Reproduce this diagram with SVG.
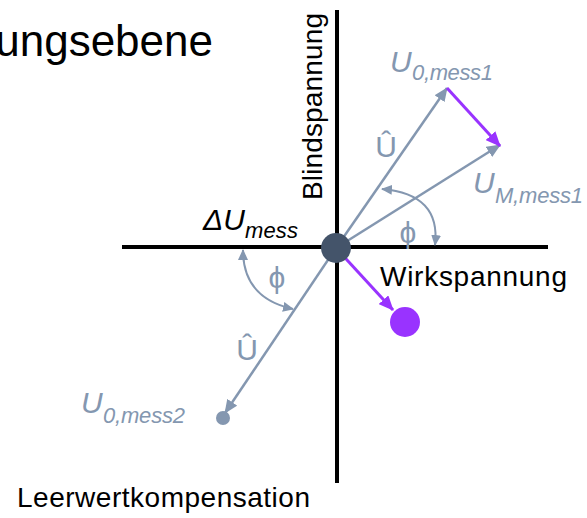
<svg xmlns="http://www.w3.org/2000/svg" width="587" height="518" viewBox="0 0 587 518">
<style>
.ax{stroke:#000;stroke-width:4;fill:none}
.vec{stroke:#8497B0;stroke-width:2.5;fill:none}
.arc{stroke:#8497B0;stroke-width:2;fill:none}
.pur{stroke:#9933FF;stroke-width:3;fill:none}
.blk{font-family:"Liberation Sans",Arial,sans-serif;fill:#000}
.lbl{font-family:"Liberation Sans",Arial,sans-serif;fill:#8497B0}
.it{font-style:italic}
</style>
<defs>
<marker id="ag" markerUnits="userSpaceOnUse" markerWidth="14" markerHeight="12" refX="13" refY="6" orient="auto"><path d="M0,0 L14,6 L0,12 z" fill="#8497B0"/></marker>
<marker id="aa" markerUnits="userSpaceOnUse" markerWidth="11" markerHeight="10" refX="10" refY="5" orient="auto-start-reverse"><path d="M0,0 L11,5 L0,10 z" fill="#8497B0"/></marker>
<marker id="ap" markerUnits="userSpaceOnUse" markerWidth="15" markerHeight="13" refX="14" refY="6.5" orient="auto"><path d="M0,0 L15,6.5 L0,13 z" fill="#9933FF"/></marker>
</defs>
<text class="blk" x="213" y="56" font-size="44" text-anchor="end">ungsebene</text>
<g id="axes">
<line class="ax" x1="122" y1="247" x2="548" y2="247"/>
<line class="ax" x1="337" y1="10" x2="337" y2="483"/>
<text class="blk" transform="translate(322,200) rotate(-90)" font-size="28" textLength="187">Blindspannung</text>
<text class="blk" x="380" y="286" font-size="28" textLength="187">Wirkspannung</text>
<text class="blk" x="17" y="507" font-size="28" textLength="293">Leerwertkompensation</text>
</g>
<g id="connectors">
<line class="vec" x1="336" y1="248" x2="447" y2="88" marker-end="url(#ag)"/>
<line class="vec" x1="336" y1="248" x2="500" y2="145" marker-end="url(#ag)"/>
<line class="vec" x1="336" y1="248" x2="225" y2="413" marker-end="url(#ag)"/>
<line class="pur" x1="447" y1="88" x2="500" y2="146" marker-end="url(#ap)"/>
<line class="pur" x1="336" y1="248" x2="393" y2="310" marker-end="url(#ap)"/>
<path class="arc" d="M382,189 Q441,194 435,245" marker-start="url(#aa)" marker-end="url(#aa)"/>
<path class="arc" d="M243,250 Q243,298 293,309" marker-start="url(#aa)" marker-end="url(#aa)"/>
</g>
<g id="center">
<circle cx="336" cy="248" r="15" fill="#44546A"/>
</g>
<g id="target">
<circle cx="405" cy="322" r="15" fill="#9933FF"/>
</g>
<g id="u0mess2-point">
<circle cx="223" cy="418" r="7" fill="#8497B0"/>
</g>
<g id="labels">
<text class="lbl" x="408" y="243" font-size="30" text-anchor="middle" font-family="DejaVu Sans">ϕ</text>
<text class="lbl" x="277" y="288" font-size="30" text-anchor="middle" font-family="DejaVu Sans">ϕ</text>
<text class="lbl" x="386" y="157" font-size="30" text-anchor="middle">Û</text>
<text class="lbl" x="247" y="360" font-size="30" text-anchor="middle">Û</text>
<text class="lbl it" x="390" y="72" font-size="30">U</text>
<text class="lbl it" x="412" y="80" font-size="22" textLength="81">0,mess1</text>
<text class="lbl it" x="473" y="193" font-size="30">U</text>
<text class="lbl it" x="495" y="203" font-size="22" textLength="88">M,mess1</text>
<text class="lbl it" x="81" y="413" font-size="30">U</text>
<text class="lbl it" x="103" y="423" font-size="22" textLength="82">0,mess2</text>
<text class="blk it" x="203" y="230" font-size="30">ΔU</text>
<text class="blk it" x="245" y="238" font-size="22" textLength="53">mess</text>
</g>
</svg>
